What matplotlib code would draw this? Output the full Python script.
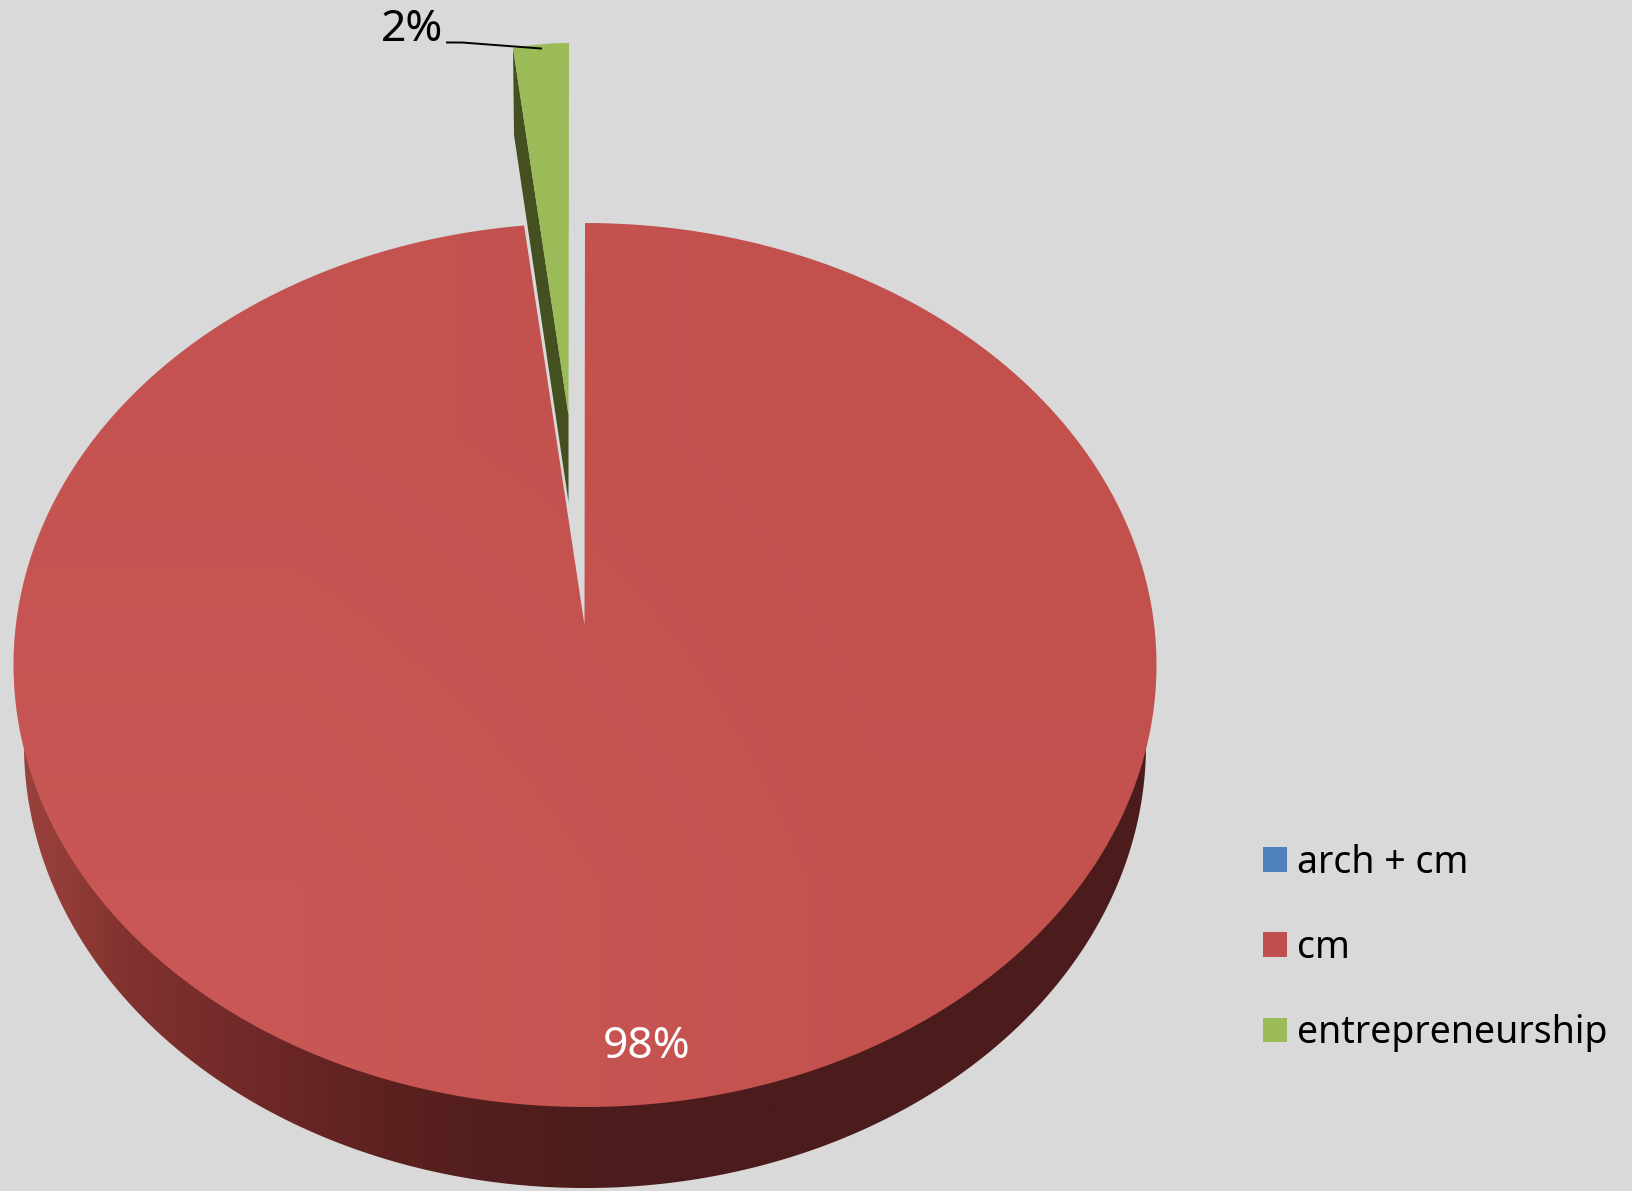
import numpy as np
import matplotlib
matplotlib.use('Agg')
import matplotlib.pyplot as plt
from matplotlib.colors import LinearSegmentedColormap
from matplotlib.patches import Patch, Polygon

# labels show them rounded
labels = ['arch + cm', 'cm', 'entrepreneurship']
values = [0, 98.3, 1.7]
colors = ['#4F81BD', '#C0504D', '#9BBB59']

BG = '#D9D9D9'
GREEN_SIDE = '#44501F'

plt.rcParams['font.family'] = ['Noto Sans', 'DejaVu Sans']

fig = plt.figure(figsize=(16.32, 11.91), dpi=100, facecolor=BG)
ax = fig.add_axes([0, 0, 1, 1])
ax.set_axis_off()


def arc(cx, cy, a, b, t1, t2, n=300):
    # t is clockwise from twelve o'clock, in fractions of the whole pie
    t = np.linspace(t1, t2, n) * 2 * np.pi
    return np.column_stack([cx + a * np.sin(t), cy - b * np.cos(t)])


def gradient_fill(arr, cmap, extent, path):
    im = ax.imshow(arr, cmap=cmap, extent=extent, aspect='auto', vmin=0, vmax=1,
                   interpolation='bilinear', zorder=2)
    patch = Polygon(path, closed=True, transform=ax.transData, facecolor='none',
                    edgecolor='none')
    ax.add_patch(patch)
    im.set_clip_path(patch)


total = float(sum(values))
cm_frac = values[1] / total
green_frac = values[2] / total

# cm slice: side first, then the top face over it
side_low = arc(585, 745, 561, 443, 0.25, 0.75)
side_cols = LinearSegmentedColormap.from_list('side', [
    (0.0, '#99413C'), (0.04, '#913C37'), (0.088, '#82322F'),
    (0.245, '#692625'), (0.334, '#5A211F'), (0.424, '#521E1D'),
    (0.514, '#4B1C1B'), (1.0, '#4B1C1C')])
gradient_fill(np.linspace(0, 1, 512).reshape(1, -1), side_cols,
              (24, 1146, 1191, 700), side_low)

face = np.vstack([[[584.5, 625]], arc(585, 665, 571.5, 442, 0, cm_frac)])
face_cols = LinearSegmentedColormap.from_list('face', ['#C2504D', '#C95755'])
gradient_fill(np.array([[0.4, 0.0], [1.0, 0.2]]), face_cols,
              (10, 1160, 1110, 220), face)

# entrepreneurship slice, pulled out towards the top
green_apex = np.array([[568.5, 415]])
green_arc = arc(569, 923, 525, 880, 1 - green_frac, 1)
green_depth = 87
green_left = green_arc[:1]
side_pts = np.vstack([green_left, green_left + [1, green_depth],
                      green_apex + [0, green_depth], green_apex])
ax.add_patch(Polygon(side_pts, closed=True, facecolor=GREEN_SIDE, edgecolor='none', zorder=3))
ax.add_patch(Polygon(np.vstack([green_apex, green_arc]), closed=True,
                     facecolor=colors[2], edgecolor='none', zorder=4))

# data labels
ax.text(646.5, 1047, '%.0f%%' % values[1], color='white', fontsize=32,
        ha='center', va='center', zorder=5)
ax.text(412, 30, '%.0f%%' % values[2], color='black', fontsize=32,
        ha='center', va='center', zorder=5)
ax.plot([447, 462, 541], [42.5, 42.5, 48.5], color='black', lw=1.4, zorder=6)

handles = [Patch(facecolor=c, edgecolor='none', label=l) for c, l in zip(colors, labels)]
ax.legend(handles=handles, loc='center left', bbox_to_anchor=(1263, 948),
          bbox_transform=ax.transData, frameon=False, fontsize=27,
          handlelength=0.64, handleheight=0.64, handletextpad=0.27,
          labelspacing=1.26, borderpad=0, borderaxespad=0)

ax.set_xlim(0, 1632)
ax.set_ylim(1191, 0)

fig.savefig('out.png', dpi=100, facecolor=BG)
